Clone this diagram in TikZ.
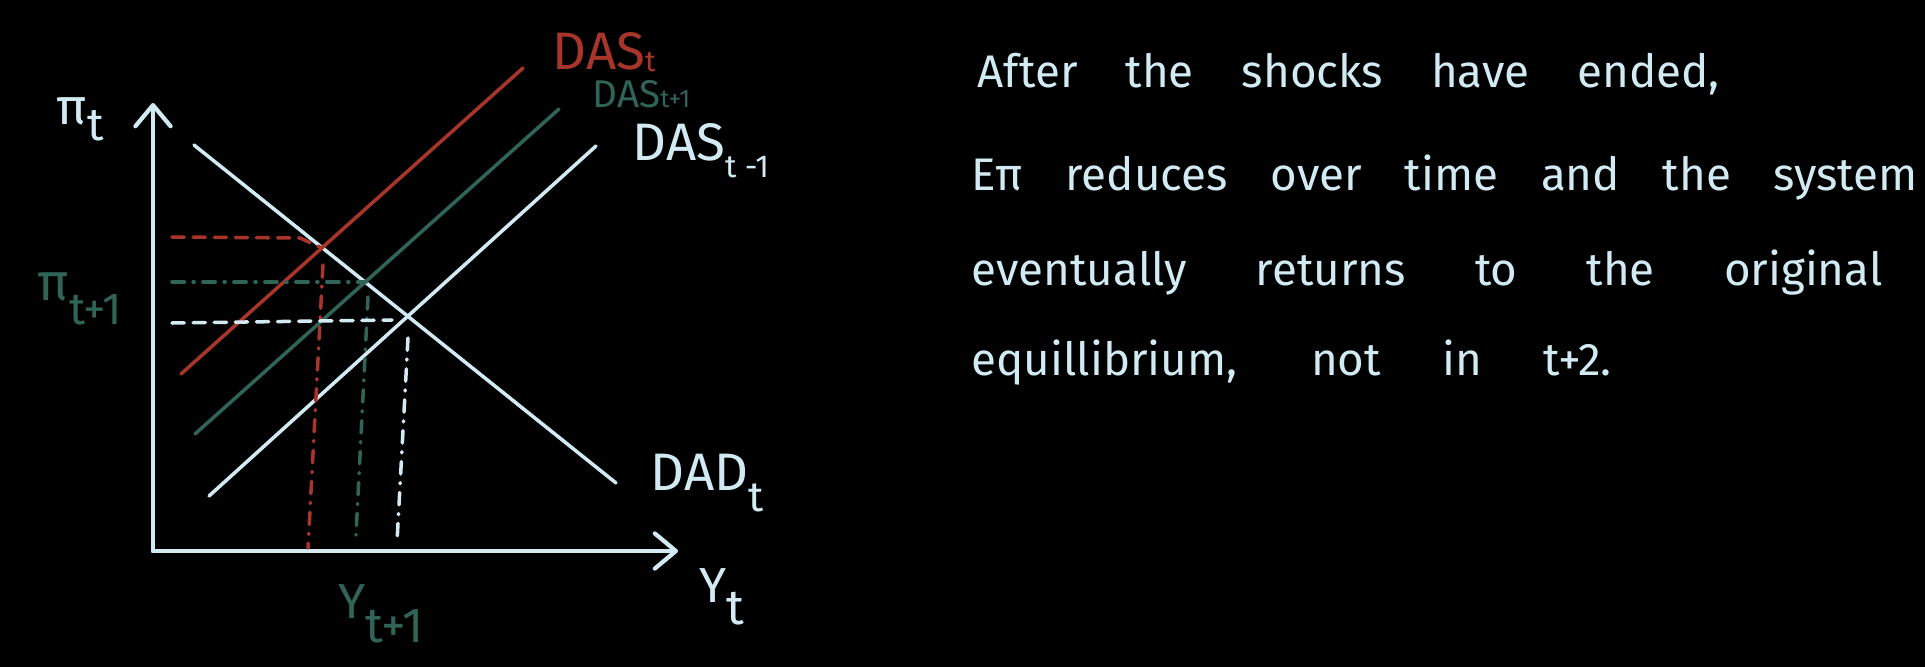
\documentclass[tikz,border=0pt]{standalone}
\usepackage{fontspec}
\setmainfont{Fira Sans}
\usepackage{xcolor}
\usetikzlibrary{arrows.meta}
\definecolor{chalk}{HTML}{D2EBF3}
\definecolor{rust}{HTML}{A8352A}
\definecolor{pine}{HTML}{2F6457}
\newcommand{\lowsub}[3][0pt]{\raisebox{-#1}{\scalebox{#2}{#3}}}
\newcommand{\fsz}[1]{\fontsize{#1}{#1}\selectfont}
\tikzset{
  axis/.style={draw=chalk,line width=1.2pt,line cap=round,
               -{Straight Barb[length=6pt,width=10pt,round]}},
  curve/.style={line width=1pt,line cap=round},
  guide/.style={line width=1pt,line cap=round,dash pattern=on 3.5pt off 2.5pt},
  guidedot/.style={line width=1pt,line cap=round,dash pattern=on 3.5pt off 2.5pt on .3pt off 2.5pt},
  lab/.style={anchor=base west,inner sep=0pt},
  note/.style={anchor=base west,inner sep=0pt,text=chalk,font=\fsz{13}},
}
\begin{document}
\begin{tikzpicture}[x=0.01cm,y=-0.01cm]
  \fill[black] (0,0) rectangle (1925,667);
  \useasboundingbox (0,0) rectangle (1925,667);

  % axes
  \coordinate (o) at (153,551);
  \coordinate (ytop) at (153,103);
  \coordinate (xend) at (678,551);
  \draw[axis] (o) -- (ytop);
  \draw[axis] (o) -- (xend);

  % curves
  \draw[curve,chalk] (194,145) coordinate (dad0) -- (616,483) coordinate (dad1);
  \draw[curve,chalk] (209,496) coordinate (aso0) -- (596,146) coordinate (aso1);
  \draw[curve,pine] (195,434) coordinate (asn0) -- (559,109) coordinate (asn1);
  \draw[curve,rust] (181,374) coordinate (ast0) -- (523,68) coordinate (ast1);

  % equilibria
  \coordinate (eqt) at (322,248);
  \coordinate (eqn) at (366,282);
  \coordinate (eqo) at (408,317);

  % guides
  \draw[guide,rust] (172,237) -- (300,238) -- (eqt);
  \draw[guidedot,rust] (323,265) -- (308,548);
  \draw[guidedot,pine] (172,282) -- (eqn);
  \draw[guidedot,pine] (368,297) -- (356,535);
  \draw[guide,chalk] (172,323) -- (392,320);
  \draw[guidedot,chalk] (408,338) -- (397,542);

  % labels
  \node[lab,text=chalk,font=\fsz{14.5}] (pit) at (56,125) {π\lowsub[4.3pt]{.9}{t}};
  \node[lab,text=pine,font=\fsz{15}] (pinext) at (37,300) {π\lowsub[7pt]{.85}{t+1}};
  \node[lab,text=rust,font=\fsz{15}] (dast) at (552,70) {DAS\lowsub[.5pt]{.55}{t}};
  \node[lab,text=pine,font=\fsz{11}] (dasn) at (592,107) {DAS\lowsub[0pt]{.65}{t+1}};
  \node[lab,text=chalk,font=\fsz{15}] (daso) at (632,160) {DAS\lowsub[5pt]{.6}{t -1}};
  \node[lab,text=chalk,font=\fsz{15}] (dad) at (650,490) {DAD\lowsub[6pt]{.8}{t}};
  \node[lab,text=chalk,font=\fsz{14}] (yt) at (699,602) {Y\lowsub[6.5pt]{1}{t}};
  \node[lab,text=pine,font=\fsz{14}] (ynext) at (338,618) {Y\lowsub[7pt]{1}{t+1}};

  % comment
  \node[note] (line1) at (977,88) {\makebox[211pt][s]{After the shocks have ended,}};
  \node[note] (line2) at (971,190) {\makebox[269pt][s]{Eπ reduces over time and the system}};
  \node[note] (line3) at (971,285) {\makebox[259pt][s]{eventually returns to the original}};
  \node[note] (line4) at (971,375) {\makebox[182pt][s]{equillibrium, not in t+2.}};
\end{tikzpicture}
\end{document}
